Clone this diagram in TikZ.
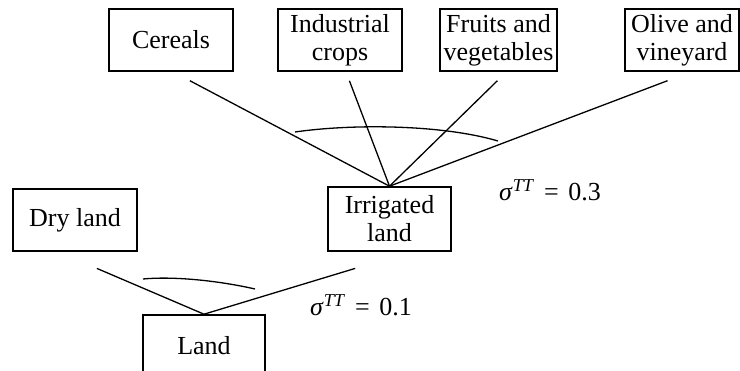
\documentclass[tikz,border=0pt]{standalone}
\usepackage{fontspec}
\setmainfont{Liberation Serif}
\usetikzlibrary{positioning}

\begin{document}
\begin{tikzpicture}[
    x=1pt, y=-1pt,
    node distance=160pt,              % centre to centre, top row
    box/.style={rectangle, draw=black, line width=1.6pt,
                align=center, inner sep=2pt,
                minimum height=62pt, minimum width=124pt,
                font=\fontsize{26}{28}\selectfont},
    link/.style={line width=1.3pt},
    bow/.style={line width=1.3pt},
    lbl/.style={font=\fontsize{26}{28}\selectfont}
]
\useasboundingbox (0,0) rectangle (740,371);

% top level: crops
\node (cereals) [box] at (171,40)                          {Cereals};
\node (indus)   [box, right of=cereals, xshift=9pt]        {Industrial\\crops};
\node (fruits)  [box, right of=indus, xshift=-1.5pt,
                 minimum width=117pt]                      {Fruits and\\vegetables};
\node (olive)   [box, right of=fruits, xshift=23.5pt,
                 minimum width=114pt]                      {Olive and\\vineyard};

% middle and bottom levels
\node (dry)     [box] at (75,220)                          {Dry land};
\node (irrig)   [box, minimum width=123pt,
                 minimum height=64pt] at (389.5,219)       {Irrigated\\land};
\node (land)    [box, minimum width=122pt] at (204,346)    {Land};

\draw [link, shorten >=19.1pt] (irrig.north) -- ([xshift=2pt]cereals.south);
\draw [link, shorten >=9.6pt]  (irrig.north) -- ([xshift=6pt]indus.south);
\draw [link, shorten >=12.8pt] (irrig.north) -- ([xshift=8pt]fruits.south);
\draw [link, shorten >=25.1pt] (irrig.north) -- ([xshift=9pt]olive.south);

\draw [link, shorten >=42.3pt] (land.north) -- ([xshift=-17pt]dry.south);
\draw [link, shorten >=57.3pt] (land.north) -- ([xshift=20.5pt]irrig.south);

% nesting arcs
\draw [bow] (295,132) .. controls (350,124) and (440,124) .. (498,141);
\draw [bow] (143,279) .. controls (175,276) and (220,281) .. (255,289);

\node (sigtop) [lbl] at (550,190) {\textit{σ}\textsuperscript{\itshape TT}\hspace{4pt} =\hspace{3pt} 0.3};
\node (sigbot) [lbl] at (361,305) {\textit{σ}\textsuperscript{\itshape TT}\hspace{4pt} =\hspace{3pt} 0.1};
\end{tikzpicture}
\end{document}
